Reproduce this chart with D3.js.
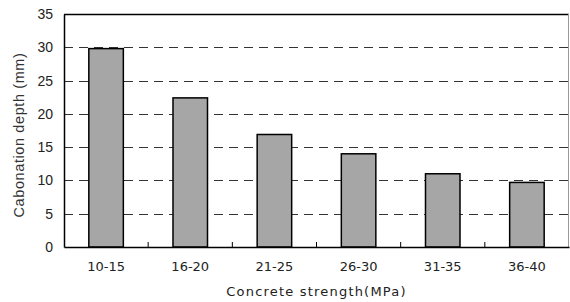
<!DOCTYPE html>
<html>
<head>
<meta charset="utf-8">
<script src="https://cdn.jsdelivr.net/npm/d3@7"></script>
<style>
  body { margin:0; background:#fff; }
  text { font-family: "DejaVu Sans", Arial, sans-serif; fill:#222; }
</style>
</head>
<body>
<svg id="chart" width="570" height="302"></svg>
<script>
// chart data
// ----------
var categories = ["10-15","16-20","21-25","26-30","31-35","36-40"];
var depthValues = [29.8, 22.4, 16.9, 14.0, 11.0, 9.7];
var yTicks = [0,5,10,15,20,25,30,35];

var margin = {left:64, top:14, right:1, bottom:55};
var W = 570, H = 302;
var svg = d3.select("#chart");

var x = d3.scaleBand()
	.domain(categories)
	.range([margin.left, W-margin.right])
	.paddingInner(0.59)
	.paddingOuter(0.295);

var y = d3.scaleLinear()
	.domain([0,35])
	.range([H-margin.bottom, margin.top]);

// dashed gridlines
svg.append("g").selectAll("line")
	.data(yTicks.filter(function(d){ return d>0 && d<35; }))
	.enter().append("line")
	.attr("x1", margin.left).attr("x2", W-margin.right-1)
	.attr("y1", function(d){ return Math.round(y(d))+0.5; })
	.attr("y2", function(d){ return Math.round(y(d))+0.5; })
	.attr("style","stroke:#333;stroke-width:1;stroke-dasharray:9,6;");

// frame: top black, right gray
svg.append("line")
	.attr("x1", margin.left).attr("x2", W-margin.right)
	.attr("y1", y(35)+0.5).attr("y2", y(35)+0.5)
	.attr("style","stroke:#000;stroke-width:1.5;");
svg.append("line")
	.attr("x1", W-margin.right-0.5).attr("x2", W-margin.right-0.5)
	.attr("y1", y(35)).attr("y2", y(0))
	.attr("style","stroke:#999;stroke-width:1;");

// bars
svg.append("g").selectAll("rect")
	.data(depthValues)
	.enter().append("rect")
	.attr("x", function(d,i){ return x(categories[i]); })
	.attr("y", function(d){ return y(d); })
	.attr("width", x.bandwidth())
	.attr("height", function(d){ return y(0)-y(d); })
	.attr("style","fill:#a6a6a6;stroke:#000;stroke-width:1.5;");

// y axis
var yAxis = svg.append("g")
	.attr("transform","translate("+margin.left+",0)")
	.call(d3.axisLeft(y).tickValues(yTicks).tickSize(0).tickPadding(11));
yAxis.select(".domain").attr("stroke","#000").attr("stroke-width",1.5);
yAxis.selectAll("text").attr("font-size","14px").attr("fill","#333")
	.style("font-family","Liberation Sans, Arial, sans-serif");

// x axis: ticks between categories pointing up
var xAxis = svg.append("g")
	.attr("transform","translate(0,"+y(0)+")")
	.call(d3.axisBottom(x).tickSize(0).tickPadding(15));
xAxis.select(".domain").attr("stroke","#000").attr("stroke-width",1.5);
xAxis.selectAll("text").attr("font-size","13px").attr("fill","#222")
	.style("font-family","DejaVu Sans, Arial, sans-serif");

var step = x.step();
xAxis.selectAll(".sep")
	.data(categories.slice(1))
	.enter().append("line")
	.attr("class","sep")
	.attr("x1", function(d){ return x(d)-x.paddingInner()*step/2; })
	.attr("x2", function(d){ return x(d)-x.paddingInner()*step/2; })
	.attr("y1", 0).attr("y2", -5)
	.attr("stroke","#000").attr("stroke-width",1);

// axis titles
svg.append("text")
	.attr("x", (margin.left+W-margin.right)/2)
	.attr("y", 296)
	.attr("text-anchor","middle")
	.attr("style","font-size:13px;letter-spacing:1.2px;")
	.text("Concrete strength(MPa)");

svg.append("text")
	.attr("transform","translate(24,135) rotate(-90)")
	.attr("text-anchor","middle")
	.attr("style","font-family:'Liberation Sans',Arial,sans-serif;font-size:14.5px;letter-spacing:0.6px;fill:#333;")
	.text("Cabonation depth (mm)");
</script>
</body>
</html>
